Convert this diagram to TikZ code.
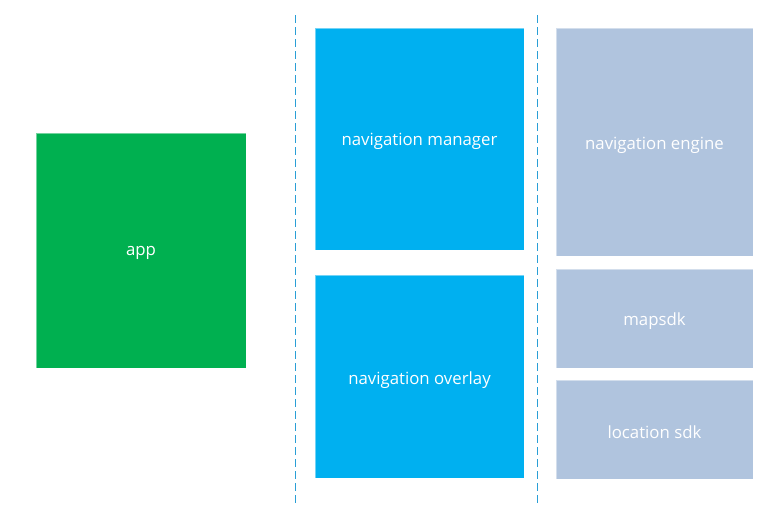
\documentclass[tikz,border=0pt]{standalone}
\usepackage{fontspec}
\setmainfont{Open Sans}
\definecolor{appgreen}{HTML}{00B050}
\definecolor{navblue}{HTML}{00B0F0}
\definecolor{sdkgray}{HTML}{B0C4DE}
\definecolor{dashblue}{HTML}{2A9FD6}
\tikzset{
  blk/.style={draw=white, draw opacity=0.45, line width=0.8pt},
  lbl/.style={text=white, font=\fontsize{16.8}{20}\selectfont},
  divider/.style={draw=dashblue, line width=0.9pt, dash pattern=on 8pt off 4pt},
}
\begin{document}
\begin{tikzpicture}[x=1pt,y=-1pt]
\useasboundingbox (0,0) rectangle (776,514);
\fill[white] (0,0) rectangle (776,514);
% boxes
\path[blk, fill=appgreen] (36,133) rectangle (246,368);
\node[lbl] (app) at (141,253) {app};
\path[blk, fill=navblue] (315,28) rectangle (524,250);
\node[lbl] (mgr) at (419.5,141) {navigation manager};
\path[blk, fill=navblue] (315,275) rectangle (524,478);
\node[lbl] (ovl) at (419.5,380) {navigation overlay};
\path[blk, fill=sdkgray] (556,28) rectangle (753,256);
\node[lbl] (eng) at (654.5,145) {navigation engine};
\path[blk, fill=sdkgray] (556,269) rectangle (753,368);
\node[lbl] (map) at (654.5,321) {mapsdk};
\path[blk, fill=sdkgray] (556,380) rectangle (753,479);
\node[lbl] (loc) at (654.5,432) {location sdk};
% dividers
\coordinate (d1t) at (295,15);
\coordinate (d1b) at (295,503);
\coordinate (d2t) at (537,15);
\coordinate (d2b) at (537,503);
\draw[divider] (d1t) -- (d1b);
\draw[divider] (d2t) -- (d2b);
\end{tikzpicture}
\end{document}
